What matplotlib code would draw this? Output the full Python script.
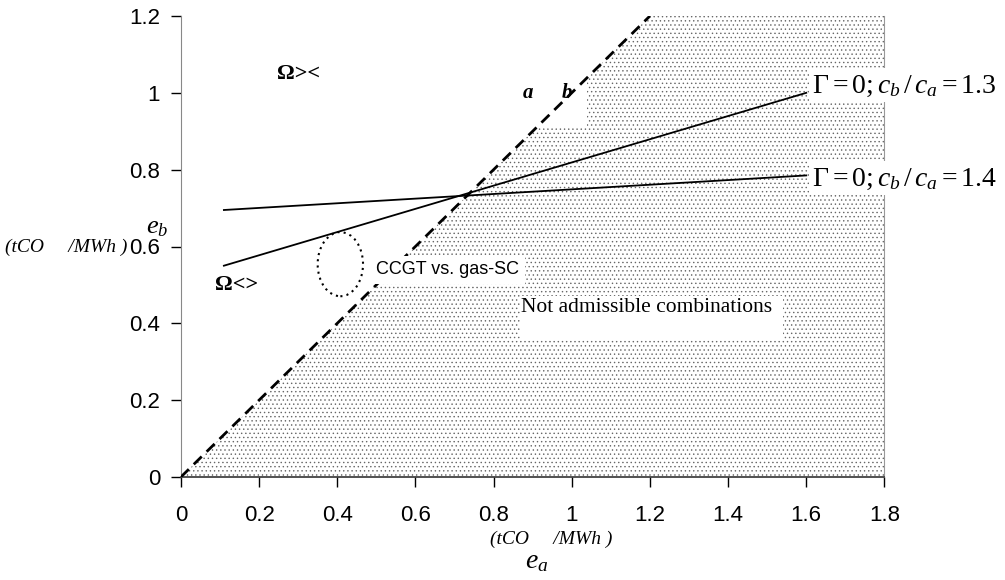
import matplotlib
matplotlib.use("Agg")
import matplotlib.pyplot as plt
from matplotlib.patches import Polygon, Rectangle, Ellipse

plt.rcParams['mathtext.fontset'] = 'custom'
plt.rcParams['mathtext.rm'] = 'Liberation Serif'
plt.rcParams['mathtext.it'] = 'Liberation Serif:italic'
plt.rcParams['hatch.linewidth'] = 0.5

# data
border_x = [0, 1.2]          # e_b = e_a
border_y = [0, 1.2]
region_x = [0, 1.2, 1.8, 1.8]
region_y = [0, 1.2, 1.2, 0]
line13_x = [0.11, 1.6]
line13_y = [0.55, 1.0]
line14_x = [0.11, 1.6]
line14_y = [0.695, 0.785]
ccgt_center = (0.408, 0.554)
ccgt_size = (0.116, 0.167)
xticks = [0, 0.2, 0.4, 0.6, 0.8, 1, 1.2, 1.4, 1.6, 1.8]
yticks = [0, 0.2, 0.4, 0.6, 0.8, 1, 1.2]

fig = plt.figure(figsize=(10.05, 5.8), dpi=100)
ax = fig.add_axes([0.180, 0.1776, 0.700, 0.7948])
ax.set_xlim(0, 1.8)
ax.set_ylim(0, 1.2)

sans = 'Liberation Sans'
serif = 'Liberation Serif'

# not admissible region (stippled)
reg = Polygon(list(zip(region_x, region_y)), closed=True, facecolor='white',
              edgecolor='#666666', linewidth=0, hatch='....', zorder=1)
ax.add_patch(reg)

# white label boxes cutting the stipple
ax.add_patch(Rectangle((0.85, 0.91), 0.19, 0.15, facecolor='white', edgecolor='none', zorder=2))
ax.add_patch(Rectangle((0.868, 0.357), 0.672, 0.115, facecolor='white', edgecolor='none', zorder=2))

ax.plot(border_x, border_y, color='black', lw=2, dashes=(4, 2.5), zorder=3)
ax.plot(line13_x, line13_y, color='black', lw=1.3, zorder=3)
ax.plot(line14_x, line14_y, color='black', lw=1.3, zorder=3)

ax.add_patch(Ellipse(ccgt_center, ccgt_size[0], ccgt_size[1], fill=False,
                     edgecolor='black', lw=1.5, linestyle=(0, (1, 2)), zorder=3))

ax.text(0.50, 0.539, 'CCGT vs. gas-SC', family=sans, fontsize=13, va='center', ha='left',
        bbox=dict(facecolor='white', edgecolor='none', pad=4), zorder=4)
ax.text(0.87, 0.44, 'Not admissible combinations', family=serif, fontsize=15.5,
        va='center', ha='left', zorder=4)

ax.text(1.615, 1.02, r'$\Gamma = 0; c_b\,/\,c_a = 1.3$', fontsize=20, va='center', ha='left',
        bbox=dict(facecolor='white', edgecolor='none', pad=2), zorder=4, clip_on=False)
ax.text(1.615, 0.778, r'$\Gamma = 0; c_b\,/\,c_a = 1.4$', fontsize=20, va='center', ha='left',
        bbox=dict(facecolor='white', edgecolor='none', pad=2), zorder=4, clip_on=False)

# garbled symbol labels
ax.text(0.245, 1.049, '\u03a9><', family=serif, fontsize=16, weight='bold', va='center', ha='left', zorder=4)
ax.text(0.087, 0.50, '\u03a9<>', family=serif, fontsize=16, weight='bold', va='center', ha='left', zorder=4)

ax.text(0.875, 1.0, 'a', family=serif, style='italic', fontsize=15, weight='bold', va='center', zorder=4)
ax.text(0.975, 1.0, 'b', family=serif, style='italic', fontsize=15, weight='bold', va='center', zorder=4)

# axes styling
ax.set_xticks(xticks)
ax.set_yticks(yticks)
ax.set_xticklabels(['0', '0.2', '0.4', '0.6', '0.8', '1', '1.2', '1.4', '1.6', '1.8'], family=sans, fontsize=16)
ax.set_yticklabels(['0', '0.2', '0.4', '0.6', '0.8', '1', '1.2'], family=sans, fontsize=16)
ax.tick_params(direction='out', length=7, width=1)
ax.tick_params(axis='x', pad=13)
ax.tick_params(axis='y', pad=8)
ax.spines['top'].set_visible(False)
ax.spines['right'].set_color('#999999')
ax.spines['left'].set_color('#888888')
ax.spines['bottom'].set_color('#333333')
ax.spines['bottom'].set_linewidth(1.2)

# axis labels
fig.text(157 / 1005, 1 - 226 / 580, '$e_b$', fontsize=19, ha='center', va='center')
fig.text(5 / 1005, 1 - 247 / 580, '(tCO     /MWh )', family=serif, style='italic', fontsize=14,
         ha='left', va='center')
fig.text(490 / 1005, 1 - 539 / 580, '(tCO     /MWh )', family=serif, style='italic', fontsize=14,
         ha='left', va='center')
fig.text(537 / 1005, 1 - 560 / 580, '$e_a$', fontsize=20, ha='center', va='center')

fig.savefig('out.png', dpi=100)
